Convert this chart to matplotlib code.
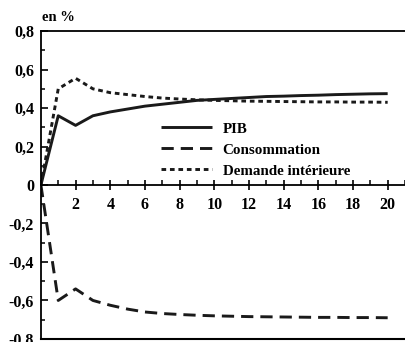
import matplotlib
matplotlib.use("Agg")
import matplotlib.pyplot as plt
from matplotlib.ticker import MultipleLocator, FuncFormatter

periods = list(range(0, 21))
pib = [0.0, 0.36, 0.31, 0.36, 0.38, 0.395, 0.41, 0.42, 0.43, 0.44, 0.445,
       0.45, 0.455, 0.46, 0.462, 0.465, 0.467, 0.47, 0.472, 0.474, 0.475]
consommation = [0.0, -0.60, -0.54, -0.60, -0.625, -0.645, -0.66, -0.668, -0.673, -0.677, -0.68,
                -0.682, -0.684, -0.685, -0.686, -0.687, -0.688, -0.688, -0.689, -0.689, -0.69]
demande = [0.0, 0.50, 0.555, 0.50, 0.48, 0.47, 0.46, 0.452, 0.447, 0.443, 0.44,
           0.438, 0.436, 0.435, 0.434, 0.433, 0.432, 0.432, 0.431, 0.431, 0.43]
labels = ["PIB", "Consommation", "Demande intérieure"]

plt.rcParams['font.family'] = ['Liberation Serif', 'DejaVu Serif']
plt.rcParams['font.weight'] = 'bold'

fig = plt.figure(figsize=(4.05, 3.42), dpi=100)
ax = fig.add_axes([0.101, 0.009, 0.899, 0.900])

lw = 2.1
ax.plot(periods, pib, color='#1a1a1a', lw=lw, solid_capstyle='butt', label=labels[0])
ax.plot(periods, consommation, color='#1a1a1a', lw=lw, dashes=(4.2, 2.4), label=labels[1])
ax.plot(periods, demande, color='#1a1a1a', lw=lw, dashes=(1.6, 1.3), label=labels[2])

ax.set_xlim(0, 21)
ax.set_ylim(-0.8, 0.8)

ax.spines['bottom'].set_position(('data', 0))
ax.spines['right'].set_visible(False)
for s in ['left', 'top', 'bottom']:
    ax.spines[s].set_linewidth(1.3)
ax.plot([0, 1], [0, 0], transform=ax.transAxes, color='black', lw=1.5, clip_on=False)

ax.set_xticks([2, 4, 6, 8, 10, 12, 14, 16, 18, 20])
ax.xaxis.set_minor_locator(MultipleLocator(1))
ax.yaxis.set_major_locator(MultipleLocator(0.2))
ax.yaxis.set_minor_locator(MultipleLocator(0.1))

def yfmt(v, pos):
    if abs(v) < 1e-9:
        return "0"
    return f"{v:.1f}".replace('.', ',')

ax.yaxis.set_major_formatter(FuncFormatter(yfmt))
ax.tick_params(axis='x', which='major', direction='inout', length=7, width=1.2,
               labelsize=11.5, pad=5)
ax.tick_params(axis='x', which='minor', direction='in', length=3.5, width=1.1)
ax.tick_params(axis='y', which='major', direction='in', length=5, width=1.2,
               labelsize=11.5, pad=5)
ax.tick_params(axis='y', which='minor', direction='in', length=3, width=1.1)
for lab in ax.get_xticklabels() + ax.get_yticklabels():
    lab.set_fontweight('bold')

ax.legend(loc='center left', bbox_to_anchor=(0.33, 0.614), frameon=False,
          prop={'weight': 'bold', 'size': 10.8}, handlelength=3.4,
          handletextpad=0.7, labelspacing=0.5, borderpad=0, borderaxespad=0)

fig.text(0.103, 0.95, "en %", fontsize=10.5, fontweight='bold', ha='left', va='center')

fig.savefig("out.png", dpi=100)
